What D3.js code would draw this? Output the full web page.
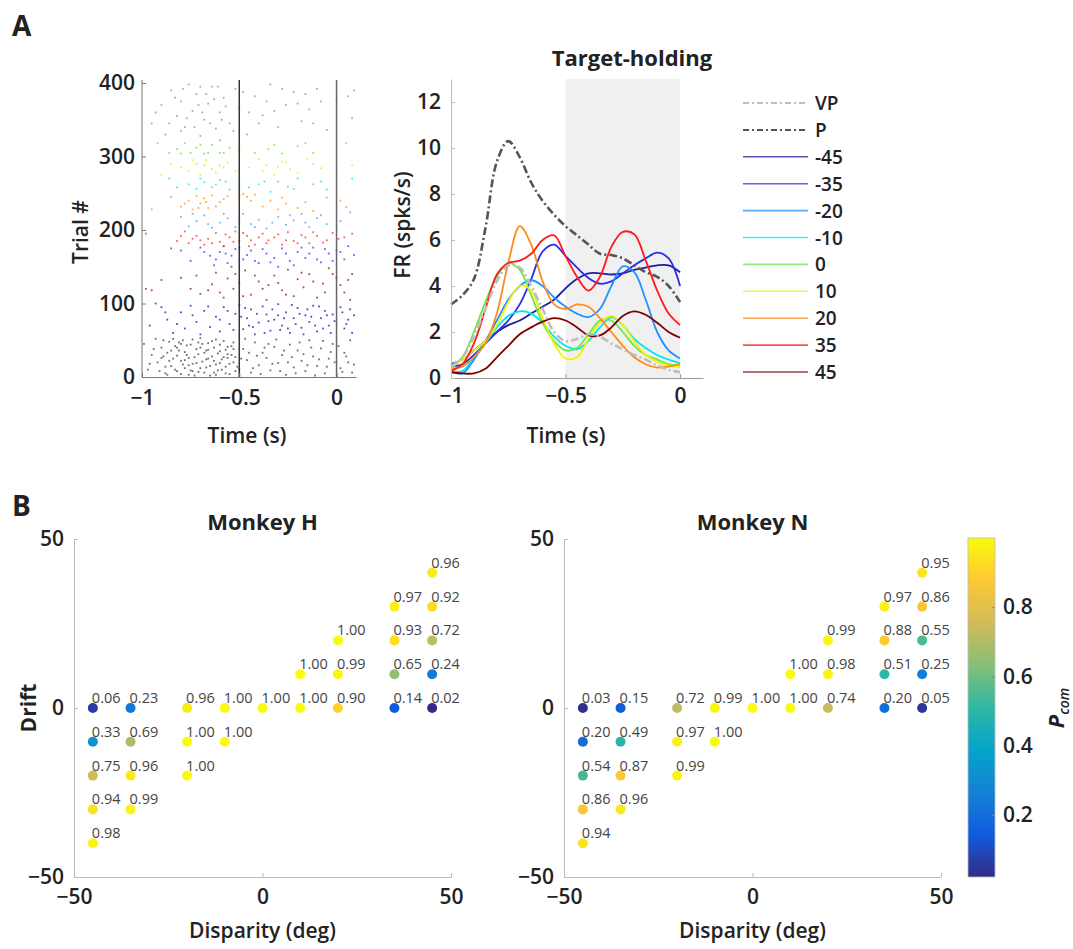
<!DOCTYPE html>
<html>
<head>
<meta charset="utf-8">
<script src="https://cdn.jsdelivr.net/npm/d3@7"></script>
<style>
  body { margin: 0; background: #fff; }
  svg text { font-family: "Open Sans", "DejaVu Sans", sans-serif; fill: #222; font-weight: 600; }
</style>
</head>
<body>
<div id="fig"></div>
<script>
// ---- data ----
// PSTH time grid (s)
var psthTimes = [-1,-0.95,-0.9,-0.85,-0.8,-0.75,-0.7,-0.65,-0.6,-0.55,-0.5,-0.45,-0.4,-0.35,-0.3,-0.25,-0.2,-0.15,-0.1,-0.05,0];
var psthNames = ["VP","P","-45","-35","-20","-10","0","10","20","35","45"];
var psthColors = ["#bdbdbd","#555555","#1e1e9e","#2b2bee","#1e90ff","#00e6f0","#6ee64a","#f2f200","#ff8c1a","#ff1a1a","#800000"];
var frVP  = [0.5,0.9,1.8,3.0,4.2,4.9,4.8,4.0,3.0,2.0,1.6,1.7,1.9,1.8,1.5,1.25,1.0,0.8,0.55,0.35,0.25];
var frP   = [3.2,3.6,4.3,6.5,9.4,10.3,9.6,8.5,7.7,7.1,6.6,6.2,5.8,5.4,5.35,5.2,4.9,4.6,4.4,4.0,3.3];
var frM45 = [0.6,0.8,1.2,1.6,2.0,2.3,2.5,2.8,3.1,3.4,3.9,4.3,4.55,4.55,4.5,4.55,4.7,4.8,4.9,4.9,4.6];
var frM35 = [0.5,0.6,1.0,1.5,2.0,2.5,3.2,4.3,5.5,5.8,5.3,4.8,4.35,4.1,4.2,4.55,4.9,5.2,5.45,5.2,4.0];
var frM20 = [0.3,0.2,0.8,1.6,2.5,3.4,4.0,4.25,4.0,3.5,3.1,2.8,2.65,3.0,4.0,4.85,4.6,3.4,2.0,1.2,0.85];
var frM10 = [0.3,0.3,0.9,1.5,2.2,2.7,2.9,2.8,2.4,1.8,1.4,1.25,1.6,2.2,2.65,2.3,1.7,1.3,1.0,0.8,0.65];
var fr0   = [0.4,0.9,2.0,3.3,4.4,5.0,4.7,3.6,2.4,1.6,1.2,1.3,1.9,2.5,2.5,2.0,1.4,1.0,0.8,0.6,0.5];
var fr10  = [0.5,0.8,1.2,1.6,2.3,3.3,4.0,3.8,2.6,1.5,0.85,0.9,1.7,2.4,2.7,2.3,1.6,1.0,0.7,0.55,0.5];
var fr20  = [0.4,0.5,0.9,1.5,2.8,5.0,6.6,5.8,4.2,3.2,3.0,3.2,3.1,2.6,2.0,1.4,0.9,0.6,0.45,0.5,0.6];
var fr35  = [0.3,0.6,1.5,3.0,4.5,5.0,5.1,5.4,6.0,6.2,5.3,4.4,3.8,4.4,5.7,6.35,6.25,5.1,3.8,2.8,2.3];
var fr45  = [0.25,0.2,0.2,0.4,0.9,1.4,1.9,2.2,2.45,2.6,2.5,2.2,1.85,1.85,2.2,2.7,2.9,2.75,2.4,2.0,1.75];
var psthSeries = [frVP,frP,frM45,frM35,frM20,frM10,fr0,fr10,fr20,fr35,fr45];

// raster spikes [time, trial] per condition block
var rasterColors = ["#333333","#0000b0","#8b0000","#2222ff","#ff2020","#3399ff","#ff8800","#00e5e5","#e5e500","#55ee00","#8a8a8a"];
var spikes = [
  [[-0.97,10],[-0.95,30],[-0.93,52],[-0.92,20],[-0.9,40],[-0.88,5],[-0.87,33],[-0.86,48],[-0.85,15],[-0.84,25],[-0.83,42],[-0.82,8],[-0.81,36],[-0.8,22],[-0.79,50],[-0.78,12],[-0.77,30],[-0.76,3],[-0.75,44],[-0.74,18],[-0.73,27],[-0.72,38],[-0.71,7],[-0.7,53],[-0.69,21],[-0.68,33],[-0.67,13],[-0.66,46],[-0.65,2],[-0.64,28],[-0.63,40],[-0.62,17],[-0.61,9],[-0.6,35],[-0.59,24],[-0.58,49],[-0.57,14],[-0.56,31],[-0.55,4],[-0.54,42],[-0.53,20],[-0.52,27],[-0.5,11],[-0.48,38],[-0.46,23],[-0.44,6],[-0.42,47],[-0.4,16],[-0.38,33],[-0.36,26],[-0.34,9],[-0.32,41],[-0.3,19],[-0.28,30],[-0.26,3],[-0.24,44],[-0.22,13],[-0.2,36],[-0.18,22],[-0.16,8],[-0.14,50],[-0.12,28],[-0.1,15],[-0.08,39],[-0.06,5],[-0.04,25],[-0.02,45],[0.02,12],[0.04,33],[0.06,20],[0.08,6],[-0.89,28],[-0.8,45],[-0.76,16],[-0.7,40],[-0.66,25],[-0.62,51],[-0.57,37],[-0.52,8],[-0.35,45],[-0.25,20],
   [-0.99,45],[-0.96,18],[-0.94,38],[-0.91,8],[-0.9,26],[-0.89,50],[-0.88,14],[-0.87,3],[-0.86,22],[-0.85,36],[-0.84,52],[-0.83,10],[-0.82,29],[-0.81,47],[-0.8,4],[-0.79,17],[-0.78,34],[-0.77,43],[-0.76,26],[-0.75,9],[-0.74,51],[-0.73,2],[-0.72,19],[-0.71,31],[-0.7,12],[-0.69,45],[-0.68,6],[-0.67,24],[-0.66,37],[-0.65,15],[-0.64,49],[-0.63,22],[-0.62,3],[-0.61,32],[-0.6,44],[-0.59,10],[-0.58,27],[-0.57,5],[-0.56,41],[-0.55,18],[-0.54,30],[-0.53,47],[-0.51,14],[-0.49,25],[-0.47,52],[-0.45,33],[-0.43,12],[-0.41,29],[-0.39,4],[-0.37,40],[-0.33,18],[-0.31,51],[-0.29,8],[-0.27,36],[-0.23,27],[-0.21,5],[-0.19,47],[-0.17,31],[-0.15,16],[-0.13,40],[-0.11,2],[-0.09,24],[-0.07,49],[-0.05,14],[-0.03,34],[-0.01,20],[0.01,42],[0.03,7],[0.05,28],[0.07,50],[0.09,17],[-0.78,23],[-0.74,8],[-0.71,47],[-0.67,36],[-0.63,6],[-0.6,19],[-0.56,26],[-0.53,38],[-0.82,40]],
  [[-0.96,70],[-0.93,100],[-0.9,95],[-0.87,78],[-0.84,60],[-0.8,88],[-0.78,66],[-0.75,97],[-0.72,75],[-0.7,58],[-0.68,90],[-0.65,68],[-0.62,82],[-0.6,62],[-0.58,95],[-0.55,72],[-0.52,86],[-0.5,98],[-0.48,65],[-0.46,80],[-0.44,92],[-0.42,58],[-0.4,74],[-0.38,96],[-0.36,85],[-0.34,63],[-0.32,78],[-0.3,99],[-0.28,70],[-0.26,88],[-0.24,60],[-0.22,80],[-0.2,94],[-0.18,67],[-0.16,84],[-0.14,75],[-0.12,97],[-0.1,62],[-0.08,80],[-0.06,90],[-0.04,70],[-0.02,85],[0.02,95],[0.04,66],[0.06,78],[0.08,60],[-0.45,70],[-0.3,84],[-0.15,92],[-0.25,66],
   [-0.88,88],[-0.82,72],[-0.74,84],[-0.66,96],[-0.6,78],[-0.56,90],[-0.53,64],[-0.49,82],[-0.47,94],[-0.43,68],[-0.41,86],[-0.37,60],[-0.35,76],[-0.33,92],[-0.29,64],[-0.27,80],[-0.23,98],[-0.21,72],[-0.19,86],[-0.17,58],[-0.13,82],[-0.11,70],[-0.09,96],[-0.07,66],[-0.05,84],[-0.03,60],[-0.01,76],[0.03,88],[0.05,72],[0.07,92],[0.09,84]],
  [[-0.98,120],[-0.95,118],[-0.8,135],[-0.75,120],[-0.7,113],[-0.66,118],[-0.62,142],[-0.58,108],[-0.54,150],[-0.52,140],[-0.5,128],[-0.47,145],[-0.44,112],[-0.4,130],[-0.36,105],[-0.32,138],[-0.28,118],[-0.25,146],[-0.22,110],[-0.2,133],[-0.17,122],[-0.14,140],[-0.1,108],[-0.07,127],[-0.04,148],[0,135],[0.04,115],[0.07,105],[0.08,140],[-0.6,115],[-0.35,125],
   [-0.9,132],[-0.72,138],[-0.64,126],[-0.56,134],[-0.53,120],[-0.48,110],[-0.42,138],[-0.38,120],[-0.3,128],[-0.26,112],[-0.18,142],[-0.12,130],[-0.06,115],[-0.02,140],[0.02,125],[0.06,132]],
  [[-0.8,172],[-0.75,158],[-0.7,176],[-0.65,165],[-0.62,160],[-0.6,170],[-0.56,155],[-0.54,165],[-0.52,174],[-0.48,160],[-0.44,172],[-0.4,155],[-0.36,168],[-0.32,162],[-0.28,175],[-0.24,158],[-0.2,170],[-0.16,162],[-0.12,176],[-0.08,156],[-0.04,168],[0,172],[0.04,160],[0.09,166],[-0.58,178],[-0.3,150],
   [-0.85,175],[-0.68,170],[-0.63,152],[-0.57,168],[-0.5,176],[-0.46,166],[-0.42,158],[-0.38,174],[-0.34,156],[-0.26,168],[-0.22,152],[-0.18,176],[-0.14,168],[-0.1,160],[-0.06,174],[-0.02,158],[0.02,170],[0.06,178]],
  [[-0.98,195],[-0.82,185],[-0.78,198],[-0.76,182],[-0.72,192],[-0.68,180],[-0.66,188],[-0.62,196],[-0.6,184],[-0.58,178],[-0.55,190],[-0.52,198],[-0.5,185],[-0.46,192],[-0.42,180],[-0.38,195],[-0.35,186],[-0.32,190],[-0.28,180],[-0.25,197],[-0.22,185],[-0.18,193],[-0.14,182],[-0.1,192],[-0.05,186],[-0.02,196],[0.04,190],[0.08,195],[-0.7,186],[-0.45,178],
   [-0.8,192],[-0.74,188],[-0.64,182],[-0.57,194],[-0.53,184],[-0.48,196],[-0.44,186],[-0.4,190],[-0.36,182],[-0.3,194],[-0.26,186],[-0.2,182],[-0.16,190],[-0.12,197],[-0.07,183],[0.01,188]],
  [[-0.8,218],[-0.76,205],[-0.72,212],[-0.68,220],[-0.64,203],[-0.6,210],[-0.56,216],[-0.52,204],[-0.48,222],[-0.44,208],[-0.4,214],[-0.36,202],[-0.3,218],[-0.26,207],[-0.22,213],[-0.18,222],[-0.14,204],[-0.1,216],[-0.05,208],[0.02,212],[0.07,224],
   [-0.74,222],[-0.66,208],[-0.58,222],[-0.5,212],[-0.42,204],[-0.33,210],[-0.24,220],[-0.16,210],[-0.08,220],[0,205]],
  [[-0.95,228],[-0.85,245],[-0.8,232],[-0.76,240],[-0.74,228],[-0.72,246],[-0.7,236],[-0.68,243],[-0.66,230],[-0.64,247],[-0.6,238],[-0.56,246],[-0.5,247],[-0.46,245],[-0.42,248],[-0.38,232],[-0.34,240],[-0.3,228],[-0.26,236],[-0.2,230],[-0.12,226],[-0.05,244],[0.05,231],
   [-0.78,236],[-0.71,230],[-0.67,238],[-0.62,232],[-0.58,242],[-0.48,249],[-0.44,240],[-0.28,244],[-0.16,238],[0.02,240]],
  [[-0.86,270],[-0.82,258],[-0.76,262],[-0.72,256],[-0.68,265],[-0.64,258],[-0.6,268],[-0.55,255],[-0.5,262],[-0.45,258],[-0.4,262],[-0.34,252],[-0.3,266],[-0.25,259],[-0.2,270],[-0.12,262],[-0.05,255],[0.08,270],
   [-0.7,270],[-0.62,262],[-0.57,266],[-0.37,266],[-0.22,256],[-0.08,266]],
  [[-0.9,275],[-0.85,290],[-0.8,285],[-0.76,280],[-0.72,290],[-0.7,275],[-0.67,295],[-0.64,283],[-0.6,288],[-0.56,292],[-0.52,280],[-0.45,285],[-0.4,296],[-0.36,288],[-0.32,275],[-0.28,293],[-0.24,283],[-0.2,278],[-0.15,297],[-0.08,284],[0,277],[0.08,288],
   [-0.74,295],[-0.68,288],[-0.62,278],[-0.58,285],[-0.38,280],[-0.3,286],[-0.26,292],[-0.12,290]],
  [[-0.92,318],[-0.86,305],[-0.82,310],[-0.78,318],[-0.75,305],[-0.72,312],[-0.68,304],[-0.64,316],[-0.6,305],[-0.55,312],[-0.5,308],[-0.42,305],[-0.35,310],[-0.28,304],[-0.2,314],[-0.12,305],[0.05,318],
   [-0.8,304],[-0.7,316],[-0.66,305],[-0.58,305],[-0.32,316],[-0.16,318]],
  [[-0.95,345],[-0.9,370],[-0.88,330],[-0.85,390],[-0.82,355],[-0.8,375],[-0.78,340],[-0.76,398],[-0.74,362],[-0.72,385],[-0.7,328],[-0.68,350],[-0.66,372],[-0.64,395],[-0.62,338],[-0.6,360],[-0.58,380],[-0.55,345],[-0.52,392],[-0.5,366],[-0.46,330],[-0.42,382],[-0.38,356],[-0.34,398],[-0.3,340],[-0.26,370],[-0.22,388],[-0.18,348],[-0.14,364],[-0.1,392],[-0.05,336],[0,378],[0.06,382],[0.08,352],[-0.8,335],[-0.7,395],[-0.6,322],[-0.45,360],
   [-0.93,360],[-0.86,345],[-0.83,380],[-0.79,392],[-0.77,352],[-0.73,340],[-0.71,370],[-0.69,360],[-0.67,385],[-0.65,345],[-0.63,378],[-0.61,395],[-0.59,350],[-0.57,368],[-0.53,335],[-0.48,388],[-0.4,345],[-0.36,375],[-0.32,362],[-0.28,392],[-0.2,372],[-0.16,385],[-0.12,345],[-0.08,375],[0.09,390]]
];

// panel B: [disparity, drift, Pcom]
var monkeyH = [
  [-45,0,0.06],[-35,0,0.23],[-20,0,0.96],[-10,0,1.00],[0,0,1.00],[10,0,1.00],[20,0,0.90],[35,0,0.14],[45,0,0.02],
  [-45,-10,0.33],[-35,-10,0.69],[-20,-10,1.00],[-10,-10,1.00],
  [-45,-20,0.75],[-35,-20,0.96],[-20,-20,1.00],
  [-45,-30,0.94],[-35,-30,0.99],[-45,-40,0.98],
  [10,10,1.00],[20,10,0.99],[35,10,0.65],[45,10,0.24],
  [20,20,1.00],[35,20,0.93],[45,20,0.72],
  [35,30,0.97],[45,30,0.92],[45,40,0.96]
];
var monkeyN = [
  [-45,0,0.03],[-35,0,0.15],[-20,0,0.72],[-10,0,0.99],[0,0,1.00],[10,0,1.00],[20,0,0.74],[35,0,0.20],[45,0,0.05],
  [-45,-10,0.20],[-35,-10,0.49],[-20,-10,0.97],[-10,-10,1.00],
  [-45,-20,0.54],[-35,-20,0.87],[-20,-20,0.99],
  [-45,-30,0.86],[-35,-30,0.96],[-45,-40,0.94],
  [10,10,1.00],[20,10,0.98],[35,10,0.51],[45,10,0.25],
  [20,20,0.99],[35,20,0.88],[45,20,0.55],
  [35,30,0.97],[45,30,0.86],[45,40,0.95]
];
var parula = ["#352a87","#0f5cdd","#1481d6","#06a4ca","#2eb7a4","#87bf77","#d1bb59","#fec832","#f9fb0e"];
var cbTicks = [0.2,0.4,0.6,0.8];

// ---- drawing ----
var W = 1073, H = 949;
var svg = d3.select("#fig").append("svg").attr("width", W).attr("height", H);

function styleAxis(g, col, fs) {
  g.select(".domain").attr("stroke", col).attr("stroke-width", 1);
  g.selectAll(".tick line").attr("stroke", col);
  g.selectAll(".tick text").style("font-size", fs + "px").style("font-family", null).style("fill", "#222");
}

// panel letters
svg.append("text").attr("x", 12).attr("y", 36).style("font-size", "28px").style("font-weight", "bold").text("A");
svg.append("text").attr("x", 12).attr("y", 516).style("font-size", "28px").style("font-weight", "bold").text("B");

// ---- raster ----
var xR = d3.scaleLinear().domain([-1, 0.1]).range([142, 356]);
var yR = d3.scaleLinear().domain([0, 400]).range([377, 83]);
var rg = svg.append("g");
spikes.forEach(function(block, i) {
  rg.append("g").selectAll("rect").data(block).enter().append("rect")
    .attr("x", function(d){ return xR(d[0]) - 0.9; })
    .attr("y", function(d){ return yR(d[1]) - 0.9; })
    .attr("width", 1.8).attr("height", 1.8)
    .attr("fill", rasterColors[i]).attr("opacity", 0.7);
});
[-0.5, 0].forEach(function(t, i) {
  rg.append("line").attr("x1", xR(t)).attr("x2", xR(t)).attr("y1", 80).attr("y2", 377)
    .attr("stroke", i == 0 ? "#333" : "#666").attr("stroke-width", 1.5);
});
var gxR = svg.append("g").attr("transform", "translate(0,377)")
  .call(d3.axisBottom(xR).tickValues([-1,-0.5,0]).tickFormat(d3.format("")).tickSizeInner(-4).tickSizeOuter(0).tickPadding(13));
styleAxis(gxR, "#777", 21);
var gyR = svg.append("g").attr("transform", "translate(142,0)")
  .call(d3.axisLeft(yR).tickValues([0,100,200,300,400]).tickSizeInner(-4).tickSizeOuter(0).tickPadding(7));
gyR.select(".domain").attr("d", "M0,377V80");
styleAxis(gyR, "#777", 21);
svg.append("text").attr("transform", "translate(88,232) rotate(-90)").attr("text-anchor", "middle")
  .style("font-size", "21px").text("Trial #");
svg.append("text").attr("x", 247).attr("y", 443).attr("text-anchor", "middle").style("font-size", "21px").text("Time (s)");

// ---- PSTH ----
var xP = d3.scaleLinear().domain([-1, 0.1]).range([451, 703]);
var yP = d3.scaleLinear().domain([0, 13]).range([378, 79]);
svg.append("rect").attr("x", xP(-0.5)).attr("y", yP(13)).attr("width", xP(0) - xP(-0.5)).attr("height", yP(0) - yP(13))
  .attr("fill", "#f0f0f0");
var line = d3.line().x(function(d){ return xP(d[0]); }).y(function(d){ return yP(d[1]); }).curve(d3.curveCatmullRom);
var order = [2,3,4,5,6,7,8,9,10,0,1];
order.forEach(function(i) {
  var pts = psthTimes.map(function(t, k){ return [t, psthSeries[i][k]]; });
  svg.append("path").attr("d", line(pts)).attr("fill", "none")
    .attr("stroke", psthColors[i])
    .attr("stroke-width", i < 2 ? 2.6 : 1.8)
    .attr("stroke-dasharray", i < 2 ? "8,3,2,3" : null);
});
var gxP = svg.append("g").attr("transform", "translate(0,378)")
  .call(d3.axisBottom(xP).tickValues([-1,-0.5,0]).tickFormat(d3.format("")).tickSizeInner(-4).tickSizeOuter(0).tickPadding(10));
styleAxis(gxP, "#999", 21);
var gyP = svg.append("g").attr("transform", "translate(451,0)")
  .call(d3.axisLeft(yP).tickValues([0,2,4,6,8,10,12]).tickSizeInner(-4).tickSizeOuter(0).tickPadding(10));
styleAxis(gyP, "#bbb", 21);
svg.append("text").attr("transform", "translate(410,225) rotate(-90)").attr("text-anchor", "middle")
  .style("font-size", "21px").text("FR (spks/s)");
svg.append("text").attr("x", 566).attr("y", 443).attr("text-anchor", "middle").style("font-size", "21px").text("Time (s)");
svg.append("text").attr("x", 632).attr("y", 66).attr("text-anchor", "middle")
  .style("font-size", "22px").style("font-weight", "bold").text("Target-holding");

// legend
var lg = svg.append("g");
psthNames.forEach(function(n, i) {
  var y = 103 + i * 26.9;
  lg.append("line").attr("x1", 743).attr("x2", 808).attr("y1", y).attr("y2", y)
    .attr("stroke", psthColors[i]).attr("stroke-width", i < 2 ? 2 : 1.6).attr("opacity", i < 2 ? 1 : 0.75)
    .attr("stroke-dasharray", i < 2 ? "6,3,2,3" : null);
  lg.append("text").attr("x", 815).attr("y", y + 7).style("font-size", "19px").text(n);
});

// ---- panel B ----
var cdom = d3.range(parula.length).map(function(k){ return 0.02 + 0.98 * k / (parula.length - 1); });
var cScale = d3.scaleLinear().domain(cdom).range(parula).interpolate(d3.interpolateRgb);

function scatterPanel(data, x0, x1, title) {
  var x = d3.scaleLinear().domain([-50, 50]).range([x0, x1]);
  var y = d3.scaleLinear().domain([-50, 50]).range([877, 539]);
  var g = svg.append("g");
  var gx = g.append("g").attr("transform", "translate(0,877)")
    .call(d3.axisBottom(x).tickValues([-50,0,50]).tickSizeInner(-4).tickSizeOuter(0).tickPadding(12));
  styleAxis(gx, "#bbb", 21);
  var gy = g.append("g").attr("transform", "translate(" + x0 + ",0)")
    .call(d3.axisLeft(y).tickValues([-50,0,50]).tickSizeInner(-4).tickSizeOuter(0).tickPadding(10));
  styleAxis(gy, "#bbb", 21);
  g.selectAll("circle").data(data).enter().append("circle")
    .attr("cx", function(d){ return x(d[0]); }).attr("cy", function(d){ return y(d[1]); })
    .attr("r", 5).attr("fill", function(d){ return cScale(d[2]); });
  g.selectAll("text.v").data(data).enter().append("text").attr("class", "v")
    .attr("x", function(d){ return x(d[0]) - 1; }).attr("y", function(d){ return y(d[1]) - 5; })
    .style("font-size", "14.5px").style("font-weight", "400").style("fill", "#444")
    .text(function(d){ return d[2].toFixed(2); });
  g.append("text").attr("x", (x0 + x1) / 2).attr("y", 530).attr("text-anchor", "middle")
    .style("font-size", "22px").style("font-weight", "bold").text(title);
  g.append("text").attr("x", (x0 + x1) / 2).attr("y", 938).attr("text-anchor", "middle")
    .style("font-size", "21px").text("Disparity (deg)");
}
scatterPanel(monkeyH, 74, 451, "Monkey H");
scatterPanel(monkeyN, 564, 941, "Monkey N");
svg.append("text").attr("transform", "translate(36,708) rotate(-90)").attr("text-anchor", "middle")
  .style("font-size", "21px").style("font-weight", "bold").text("Drift");

// colorbar
var cbY = d3.scaleLinear().domain([0.02, 1]).range([877, 538]);
var defs = svg.append("defs");
var grad = defs.append("linearGradient").attr("id", "cb").attr("x1", 0).attr("y1", 1).attr("x2", 0).attr("y2", 0);
parula.forEach(function(c, k) {
  grad.append("stop").attr("offset", k / (parula.length - 1)).attr("stop-color", c);
});
svg.append("rect").attr("x", 968).attr("y", 538).attr("width", 27).attr("height", 339)
  .attr("fill", "url(#cb)").attr("stroke", "#bbb").attr("stroke-width", 0.8);
var gcb = svg.append("g").attr("transform", "translate(995,0)")
  .call(d3.axisRight(cbY).tickValues(cbTicks).tickFormat(d3.format(".1f")).tickSizeInner(-3).tickSizeOuter(0).tickPadding(8));
gcb.select(".domain").remove();
styleAxis(gcb, "#888", 21);
var pl = svg.append("text").attr("transform", "translate(1064,708) rotate(-90)").attr("text-anchor", "middle");
pl.append("tspan").style("font-size", "22px").style("font-style", "italic").style("font-weight", "bold").text("P");
pl.append("tspan").attr("dy", 5).style("font-size", "14px").style("font-style", "italic").text("com");
</script>
</body>
</html>
